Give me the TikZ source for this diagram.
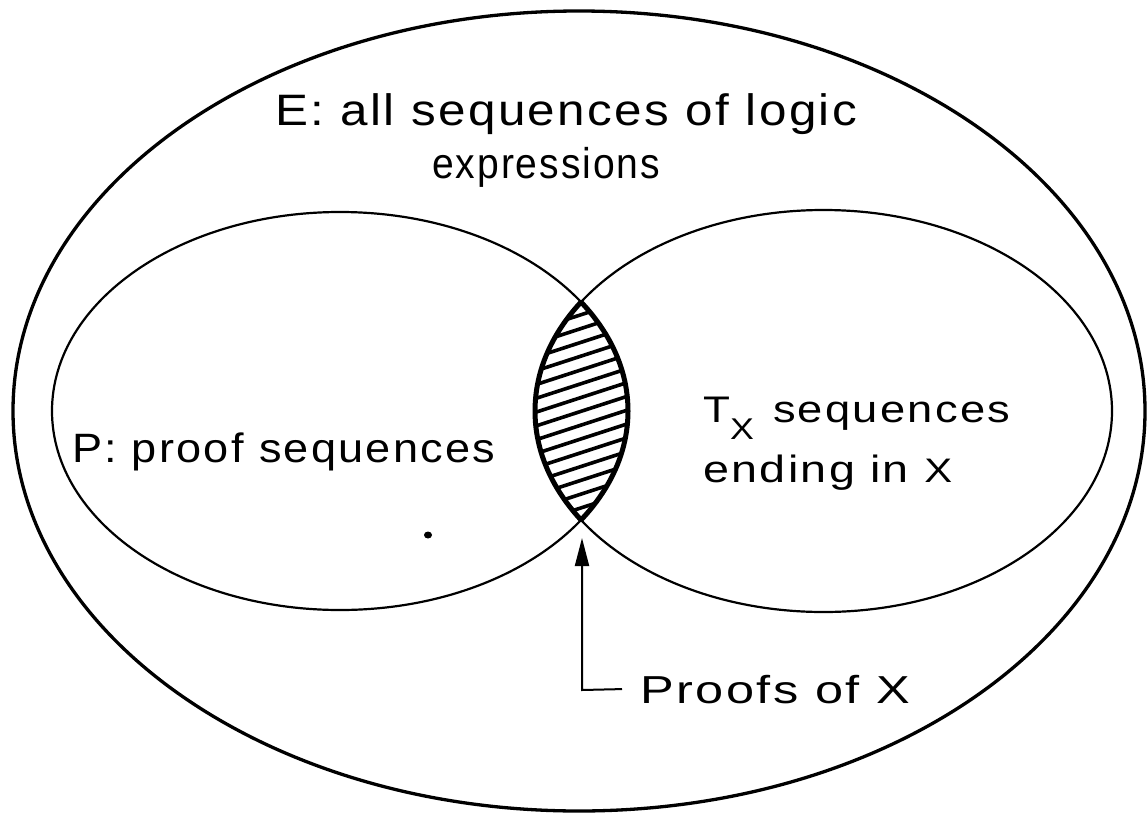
\documentclass[tikz,border=0pt]{standalone}
\usepackage{fontspec}
\setmainfont{Liberation Sans}[LetterSpace=5]
\usetikzlibrary{arrows.meta}
\newcommand{\fitw}[2]{\resizebox{#1}{\height}{#2}}
\begin{document}
\begin{tikzpicture}[x=1pt,y=-1pt,
  lbl/.style={inner sep=0pt, anchor=base west},
  outerset/.style={draw=black, line width=3.3pt},
  innerset/.style={draw=black, line width=2.2pt},
  lensedge/.style={draw=black, line width=5pt},
  hatchline/.style={draw=black, line width=3.6pt},
  arr/.style={draw=black, line width=2pt, -{Triangle[length=28pt,width=14pt]}}]
\useasboundingbox (0,0) rectangle (1148,819);
\fill[white] (0,0) rectangle (1148,819);

% universe E
\draw[outerset] (579,411) ellipse [x radius=566pt, y radius=400pt];
% P and T_X
\draw[innerset] (340,411) ellipse [x radius=288pt, y radius=199pt];
\draw[innerset] (823.5,411) ellipse [x radius=288.5pt, y radius=201pt];

% hatched intersection
\begin{scope}
  \clip (340,411) ellipse [x radius=288pt, y radius=199pt];
  \clip (823.5,411) ellipse [x radius=288.5pt, y radius=201pt];
  \foreach \k in {-11,...,11}
    \draw[hatchline] ({582+\k*4.3-120},{411+\k*12.4+39}) -- ({582+\k*4.3+120},{411+\k*12.4-39});
\end{scope}
\begin{scope}
  \clip (340,411) ellipse [x radius=288pt, y radius=199pt];
  \draw[lensedge] (823.5,411) ellipse [x radius=288.5pt, y radius=201pt];
\end{scope}
\begin{scope}
  \clip (823.5,411) ellipse [x radius=288.5pt, y radius=201pt];
  \draw[lensedge] (340,411) ellipse [x radius=288pt, y radius=199pt];
\end{scope}

% stray dot
\fill[black] (428,535) ellipse [x radius=4pt, y radius=3.5pt];

% labels
\node[lbl, font=\fontsize{44}{48}\selectfont] (e1) at (275,125) {\fitw{582pt}{E: all sequences of logic}};
\node[lbl, font=\fontsize{43}{47}\selectfont] (e2) at (432,178) {\fitw{228pt}{expressions}};
\node[lbl, font=\fontsize{41}{45}\selectfont] (p) at (72,462) {\fitw{423pt}{P: proof\hspace{14pt}sequences}};
\node[lbl, font=\fontsize{38}{42}\selectfont] (t1) at (703,422) {\fitw{307pt}{{\fontsize{37}{37}\selectfont T}\raisebox{-17pt}{\fontsize{30}{30}\selectfont X}\hspace{16pt}sequences}};
\node[lbl, font=\fontsize{38}{42}\selectfont] (t2) at (703,482) {\fitw{249pt}{ending in {\fontsize{34}{34}\selectfont X}}};
\node[lbl, font=\fontsize{39}{43}\selectfont] (pr) at (640,703) {\fitw{270pt}{Proofs of X}};

% pointer to the intersection
\coordinate (tip) at (582,538);
\coordinate (corner) at (582,690);
\draw[arr] ([xshift=-18pt]pr.west) -- (corner) -- (tip);
\end{tikzpicture}
\end{document}
